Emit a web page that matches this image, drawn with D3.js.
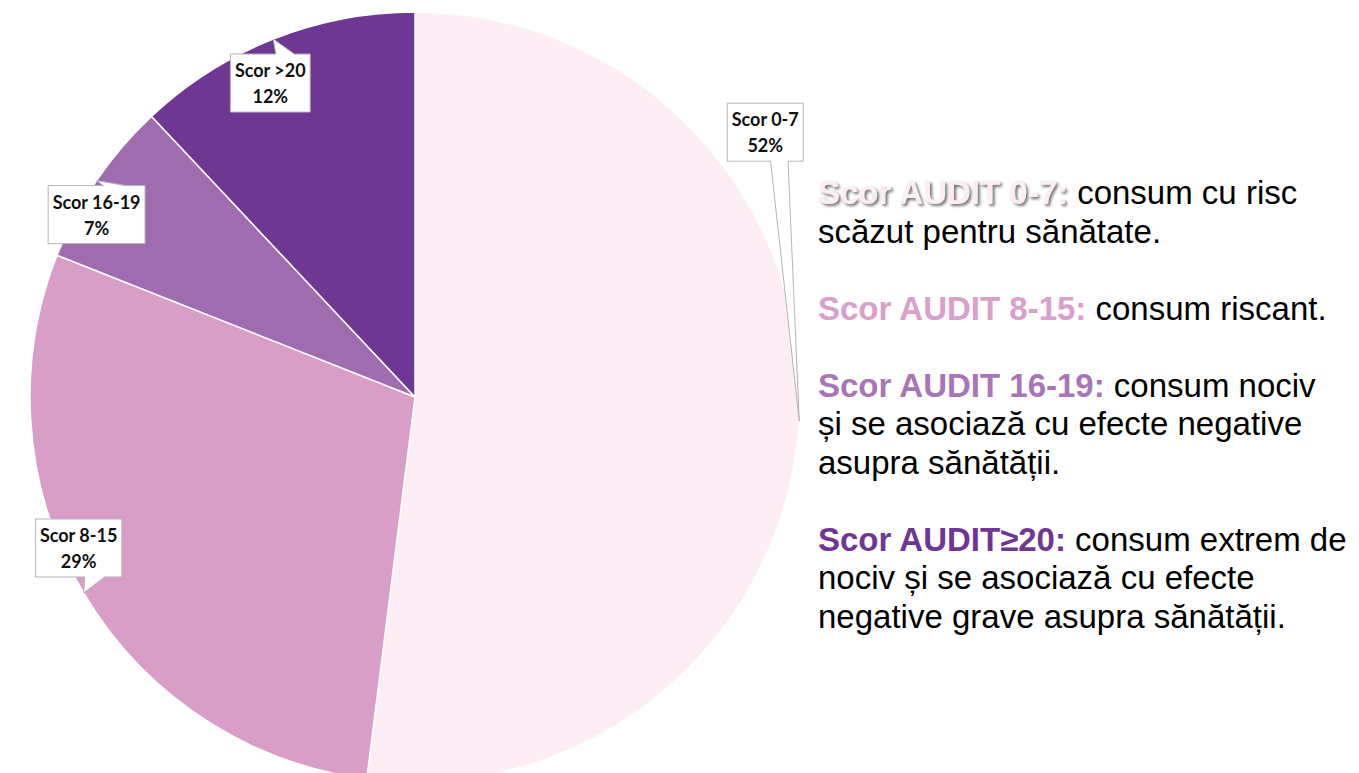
<!DOCTYPE html>
<html>
<head>
<meta charset="utf-8">
<script src="https://cdn.jsdelivr.net/npm/d3@7"></script>
<style>
  html, body { margin: 0; padding: 0; background: #fff; }
  svg { display: block; }
</style>
</head>
<body>
<div id="chart"></div>
<script>
// slice data
const categories = ["Scor 0-7", "Scor 8-15", "Scor 16-19", "Scor >20"];
const percents = [52, 29, 7, 12];
const sliceColors = ["#fdedf5", "#d99ec8", "#9e6caf", "#6e3794"];

// legend text on the right
const legendHeads = ["Scor AUDIT 0-7:", "Scor AUDIT 8-15:", "Scor AUDIT 16-19:", "Scor AUDIT≥20:"];
const legendText = [
  ["consum cu risc", "scăzut pentru sănătate."],
  ["consum riscant."],
  ["consum nociv", "și se asociază cu efecte negative", "asupra sănătății."],
  ["consum extrem de", "nociv și se asociază cu efecte", "negative grave asupra sănătății."]
];
const headColors = ["#fcedf5", "#d9a0c9", "#a676b8", "#6f3795"];

const width = 1359, height = 773;
const cx = 415, cy = 397, radius = 385;

// callout box offsets from the pointer tip (layout only)
const boxOffsets = [[-34, -289], [-5, -45], [0, 34], [-3, 44]];

const svg = d3.select("#chart").append("svg")
  .attr("width", width)
  .attr("height", height)
  .attr("viewBox", `0 0 ${width} ${height}`);

const defs = svg.append("defs");
const shadow = defs.append("filter").attr("id", "shadow")
  .attr("x", "-10%").attr("y", "-30%").attr("width", "130%").attr("height", "170%");
shadow.append("feDropShadow")
  .attr("dx", 2).attr("dy", 2).attr("stdDeviation", 1.6)
  .attr("flood-color", "#555").attr("flood-opacity", 0.85);

const data = categories.map((c, i) => ({ name: c, value: percents[i], color: sliceColors[i] }));

const pie = d3.pie().sort(null).value(d => d.value);
const arcs = pie(data);
const arc = d3.arc().innerRadius(0).outerRadius(radius);

const g = svg.append("g").attr("transform", `translate(${cx},${cy})`);

g.selectAll("path.slice")
  .data(arcs)
  .enter()
  .append("path")
  .attr("class", "slice")
  .attr("d", arc)
  .attr("fill", d => d.data.color)
  .attr("stroke", "#fff")
  .attr("stroke-width", 1.5);

// callout labels
const labels = g.selectAll("g.callout")
  .data(arcs)
  .enter()
  .append("g")
  .attr("class", "callout");

labels.each(function (d, i) {
  const el = d3.select(this);
  const mid = (d.startAngle + d.endAngle) / 2;
  const tip = [Math.sin(mid) * radius, -Math.cos(mid) * radius];
  const bc = [tip[0] + boxOffsets[i][0], tip[1] + boxOffsets[i][1]];

  const shape = el.append("path");
  const txt = el.append("text")
    .attr("text-anchor", "middle")
    .attr("font-family", "Lato, 'Open Sans', sans-serif")
    .attr("font-weight", 700)
    .attr("font-size", 18)
    .attr("fill", "#111");
  txt.append("tspan").attr("x", bc[0]).attr("y", bc[1] - 6).text(d.data.name);
  txt.append("tspan").attr("x", bc[0]).attr("y", bc[1] + 20).text(d.data.value + "%");

  const w = txt.node().getBBox().width + 9;
  const h = 58;
  const x0 = bc[0] - w / 2, x1 = bc[0] + w / 2;
  const y0 = bc[1] - h / 2, y1 = bc[1] + h / 2;
  const a = x0 + w * 0.57, b = x0 + w * 0.8;

  let p;
  if (tip[1] < y0) {
    // pointer on top edge
    p = `M${x0},${y0}L${a},${y0}L${tip[0]},${tip[1]}L${b},${y0}L${x1},${y0}L${x1},${y1}L${x0},${y1}Z`;
  } else {
    // pointer on bottom edge
    p = `M${x0},${y0}L${x1},${y0}L${x1},${y1}L${b},${y1}L${tip[0]},${tip[1]}L${a},${y1}L${x0},${y1}Z`;
  }
  shape.attr("d", p)
    .attr("fill", "#fff")
    .attr("stroke", "#b5b5b5")
    .attr("stroke-width", 1);
});

// right-hand legend text
const legend = svg.append("g")
  .attr("font-family", "'Liberation Sans', Arial, sans-serif")
  .attr("font-size", 33);

const lineH = 38.5;
let k = 0;
legendHeads.forEach((head, i) => {
  legendText[i].forEach((line, j) => {
    const t = legend.append("text")
      .attr("x", 818)
      .attr("y", 204 + k * lineH);
    if (j === 0) {
      const hs = t.append("tspan")
        .attr("font-weight", 700)
        .attr("fill", headColors[i])
        .text(head);
      if (i === 0) hs.attr("filter", "url(#shadow)");
      t.append("tspan").attr("fill", "#000").text(head.endsWith(":") ? " " + line : line);
    } else {
      t.attr("fill", "#000").text(line);
    }
    k++;
  });
  k++;
});
</script>
</body>
</html>
